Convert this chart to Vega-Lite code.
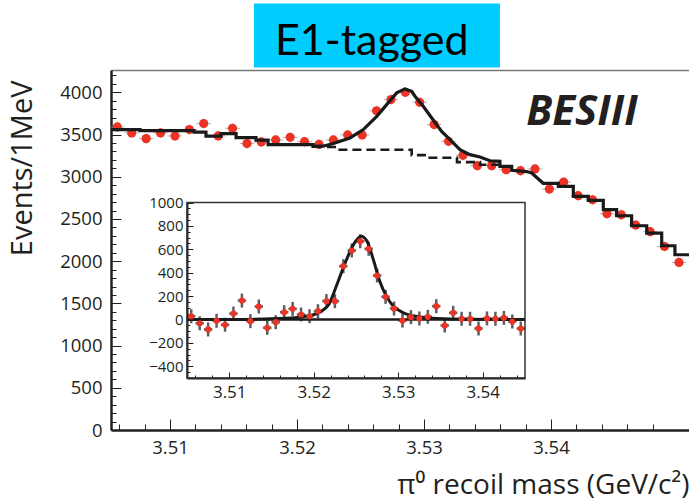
{
  "$schema": "https://vega.github.io/schema/vega-lite/v6.json",
  "width": 578,
  "height": 360,
  "autosize": {"type": "none"},
  "padding": {"left": 111, "top": 70, "right": 0, "bottom": 72},
  "config": {
    "font": "Open Sans",
    "view": {"stroke": null},
    "axis": {"grid": false, "labelColor": "#231f20", "titleColor": "#231f20", "titleFontWeight": "normal", "domainColor": "#231f20", "tickColor": "#231f20", "zindex": 1}
  },
  "datasets": {
    "pts": [
      {"m": 3.50585, "n": 3591}, {"m": 3.50698, "n": 3520}, {"m": 3.50812, "n": 3452}, {"m": 3.50925, "n": 3520},
      {"m": 3.51039, "n": 3484}, {"m": 3.51152, "n": 3559}, {"m": 3.51265, "n": 3630}, {"m": 3.51379, "n": 3484},
      {"m": 3.51492, "n": 3574}, {"m": 3.51606, "n": 3393}, {"m": 3.51719, "n": 3413}, {"m": 3.51832, "n": 3437},
      {"m": 3.51946, "n": 3467}, {"m": 3.52059, "n": 3416}, {"m": 3.52173, "n": 3384}, {"m": 3.52286, "n": 3437},
      {"m": 3.52399, "n": 3496}, {"m": 3.52513, "n": 3496}, {"m": 3.52626, "n": 3781}, {"m": 3.5274, "n": 3915},
      {"m": 3.52853, "n": 4001}, {"m": 3.52966, "n": 3883}, {"m": 3.5308, "n": 3618}, {"m": 3.53193, "n": 3420},
      {"m": 3.53307, "n": 3254}, {"m": 3.5342, "n": 3132}, {"m": 3.53533, "n": 3132}, {"m": 3.53647, "n": 3084},
      {"m": 3.5376, "n": 3072}, {"m": 3.53874, "n": 3093}, {"m": 3.53987, "n": 2855}, {"m": 3.541, "n": 2938},
      {"m": 3.54214, "n": 2776}, {"m": 3.54327, "n": 2728}, {"m": 3.54441, "n": 2562}, {"m": 3.54554, "n": 2550},
      {"m": 3.54667, "n": 2428}, {"m": 3.54781, "n": 2349}, {"m": 3.54894, "n": 2174}, {"m": 3.55008, "n": 1985}
    ],
    "fit": [
      {"m": 3.50535, "n": 3559}, {"m": 3.50764, "n": 3559}, {"m": 3.50764, "n": 3547}, {"m": 3.51189, "n": 3547}, {"m": 3.51189, "n": 3529},
      {"m": 3.51283, "n": 3529}, {"m": 3.51283, "n": 3482}, {"m": 3.51402, "n": 3482}, {"m": 3.51402, "n": 3511}, {"m": 3.5152, "n": 3511},
      {"m": 3.5152, "n": 3464}, {"m": 3.51677, "n": 3464}, {"m": 3.51677, "n": 3434}, {"m": 3.51772, "n": 3434}, {"m": 3.51772, "n": 3381},
      {"m": 3.52126, "n": 3381}, {"m": 3.52126, "n": 3360}, {"m": 3.52205, "n": 3362}, {"m": 3.52286, "n": 3395}, {"m": 3.52417, "n": 3460},
      {"m": 3.52522, "n": 3559}, {"m": 3.52628, "n": 3716}, {"m": 3.52706, "n": 3855}, {"m": 3.52785, "n": 3994}, {"m": 3.5285, "n": 4041},
      {"m": 3.52903, "n": 4013}, {"m": 3.52929, "n": 3954}, {"m": 3.52994, "n": 3835}, {"m": 3.53061, "n": 3697}, {"m": 3.53139, "n": 3538},
      {"m": 3.53205, "n": 3440}, {"m": 3.53283, "n": 3321}, {"m": 3.53362, "n": 3262}, {"m": 3.53441, "n": 3235}, {"m": 3.5352, "n": 3190},
      {"m": 3.53598, "n": 3183}, {"m": 3.53598, "n": 3123}, {"m": 3.53691, "n": 3123}, {"m": 3.53691, "n": 3076}, {"m": 3.53809, "n": 3062},
      {"m": 3.53848, "n": 3045}, {"m": 3.53939, "n": 2923}, {"m": 3.54058, "n": 2923}, {"m": 3.54058, "n": 2886}, {"m": 3.54176, "n": 2886},
      {"m": 3.54176, "n": 2767}, {"m": 3.54294, "n": 2767}, {"m": 3.54294, "n": 2720}, {"m": 3.54412, "n": 2720}, {"m": 3.54412, "n": 2610},
      {"m": 3.54517, "n": 2610}, {"m": 3.54517, "n": 2538}, {"m": 3.54635, "n": 2538}, {"m": 3.54635, "n": 2420}, {"m": 3.54754, "n": 2420},
      {"m": 3.54754, "n": 2333}, {"m": 3.54872, "n": 2333}, {"m": 3.54872, "n": 2183}, {"m": 3.54976, "n": 2183}, {"m": 3.54976, "n": 2076},
      {"m": 3.55087, "n": 2076}
    ],
    "bkg": [
      {"m": 3.52126, "n": 3355}, {"m": 3.52315, "n": 3352}, {"m": 3.52315, "n": 3321}, {"m": 3.52903, "n": 3321}, {"m": 3.52903, "n": 3256},
      {"m": 3.53024, "n": 3256}, {"m": 3.53024, "n": 3226}, {"m": 3.5326, "n": 3226}, {"m": 3.5326, "n": 3173}, {"m": 3.53441, "n": 3173},
      {"m": 3.53441, "n": 3143}, {"m": 3.53598, "n": 3143}
    ],
    "ipts": [
      {"m": 3.5055, "n": 28}, {"m": 3.5065, "n": -32}, {"m": 3.5075, "n": -85}, {"m": 3.5085, "n": -11},
      {"m": 3.5095, "n": -45}, {"m": 3.5105, "n": 51}, {"m": 3.5115, "n": 162}, {"m": 3.5125, "n": -14},
      {"m": 3.5135, "n": 111}, {"m": 3.5145, "n": -71}, {"m": 3.5155, "n": -23}, {"m": 3.5165, "n": 62},
      {"m": 3.5175, "n": 91}, {"m": 3.5185, "n": 43}, {"m": 3.5195, "n": 28}, {"m": 3.5205, "n": 71},
      {"m": 3.5215, "n": 157}, {"m": 3.5225, "n": 157}, {"m": 3.5235, "n": 456}, {"m": 3.5245, "n": 590},
      {"m": 3.5255, "n": 669}, {"m": 3.5265, "n": 604}, {"m": 3.5275, "n": 376}, {"m": 3.5285, "n": 194},
      {"m": 3.5295, "n": 94}, {"m": 3.5305, "n": -9}, {"m": 3.5315, "n": 20}, {"m": 3.5325, "n": 9},
      {"m": 3.5335, "n": 23}, {"m": 3.5345, "n": 114}, {"m": 3.5355, "n": -51}, {"m": 3.5365, "n": 57},
      {"m": 3.5375, "n": 6}, {"m": 3.5385, "n": 6}, {"m": 3.5395, "n": -77}, {"m": 3.5405, "n": 9},
      {"m": 3.5415, "n": 6}, {"m": 3.5425, "n": 14}, {"m": 3.5435, "n": -17}, {"m": 3.5445, "n": -77}
    ],
    "ifit": [
      {"m": 3.505, "n": 0}, {"m": 3.51, "n": 1}, {"m": 3.514, "n": 4}, {"m": 3.5165, "n": 10}, {"m": 3.5185, "n": 22},
      {"m": 3.52, "n": 42}, {"m": 3.521, "n": 75}, {"m": 3.5218, "n": 130}, {"m": 3.5227, "n": 290}, {"m": 3.5237, "n": 480},
      {"m": 3.5247, "n": 640}, {"m": 3.5256, "n": 712}, {"m": 3.5263, "n": 670}, {"m": 3.5271, "n": 500}, {"m": 3.5278, "n": 330},
      {"m": 3.5286, "n": 200}, {"m": 3.5294, "n": 115}, {"m": 3.5306, "n": 57}, {"m": 3.5326, "n": 22}, {"m": 3.5346, "n": 8},
      {"m": 3.538, "n": 2}, {"m": 3.545, "n": 0}
    ]
  },
  "layer": [
    {
      "encoding": {
        "x": {
          "field": "m", "type": "quantitative",
          "scale": {"domain": [3.50535, 3.55087], "nice": false, "zero": false},
          "axis": {
            "orient": "bottom",
            "values": [3.506, 3.508, 3.51, 3.512, 3.514, 3.516, 3.518, 3.52, 3.522, 3.524, 3.526, 3.528, 3.53, 3.532, 3.534, 3.536, 3.538, 3.54, 3.542, 3.544, 3.546, 3.548],
            "labelExpr": "abs(datum.value*100 - round(datum.value*100)) < 0.001 ? format(datum.value, '.2f') : ''",
            "tickSize": {"condition": {"test": "abs(datum.value*100 - round(datum.value*100)) < 0.001", "value": -11}, "value": -6},
            "tickWidth": 1,
            "domainWidth": 2.5,
            "labelFontSize": 18.5,
            "labelPadding": 19,
            "labelOverlap": false,
            "labelFlush": false,
            "title": "π⁰ recoil mass (GeV/c²)",
            "titleFontSize": 28,
            "titleAnchor": "end",
            "titleAlign": "right",
            "titlePadding": 10
          }
        },
        "y": {
          "field": "n", "type": "quantitative",
          "scale": {"domain": [0, 4265], "nice": false},
          "axis": {
            "orient": "left",
            "values": [0, 100, 200, 300, 400, 500, 600, 700, 800, 900, 1000, 1100, 1200, 1300, 1400, 1500, 1600, 1700, 1800, 1900, 2000, 2100, 2200, 2300, 2400, 2500, 2600, 2700, 2800, 2900, 3000, 3100, 3200, 3300, 3400, 3500, 3600, 3700, 3800, 3900, 4000, 4100, 4200],
            "labelExpr": "datum.value % 500 == 0 ? format(datum.value, 'd') : ''",
            "tickSize": {"condition": {"test": "datum.value % 500 == 0", "value": -10}, "value": -5},
            "tickWidth": 1,
            "domainWidth": 2.5,
            "labelFontSize": 18.5,
            "labelPadding": 19,
            "labelOverlap": false,
            "labelFlush": false,
            "title": "Events/1MeV",
            "titleFontSize": 29,
            "titleAnchor": "end",
            "titleAlign": "right",
            "titleY": 10,
            "titlePadding": 22
          }
        }
      },
      "layer": [
        {"data": {"name": "pts"}, "mark": {"type": "tick", "orient": "vertical", "size": 10, "thickness": 1, "color": "#8c8c8c"}},
        {"data": {"name": "pts"}, "mark": {"type": "tick", "orient": "horizontal", "size": 14.4, "thickness": 1, "color": "#8c8c8c"}},
        {"data": {"name": "pts"}, "mark": {"type": "circle", "size": 85, "color": "#ec3324", "opacity": 1}},
        {"data": {"name": "fit"}, "mark": {"type": "line", "color": "#1a1a1a", "strokeWidth": 3.2}, "encoding": {"order": {"value": null}}},
        {"data": {"name": "bkg"}, "mark": {"type": "line", "color": "#1a1a1a", "strokeWidth": 2.6, "strokeDash": [9, 5]}, "encoding": {"order": {"value": null}}}
      ]
    },
    {
      "data": {"values": [{}]},
      "layer": [
        {
          "mark": {"type": "rect", "color": "#00ccff"},
          "encoding": {
            "x": {"datum": 3.51661, "type": "quantitative", "scale": {"domain": [3.50535, 3.55087], "nice": false, "zero": false},
                  "axis": {"orient": "top", "ticks": false, "labels": false, "title": null, "domainColor": "#777777", "domainWidth": 1.5, "zindex": 0}},
            "x2": {"datum": 3.53598},
            "y": {"datum": 5053, "type": "quantitative", "scale": {"domain": [0, 4265], "nice": false}, "axis": null},
            "y2": {"datum": 4294}
          }
        },
        {
          "mark": {"type": "text", "text": "E1-tagged", "font": "Lato", "fontSize": 43, "color": "#000000", "align": "center", "baseline": "alphabetic"},
          "encoding": {
            "x": {"datum": 3.52588, "type": "quantitative", "scale": {"domain": [3.50535, 3.55087], "nice": false, "zero": false},
                  "axis": {"orient": "top", "ticks": false, "labels": false, "title": null, "domainColor": "#777777", "domainWidth": 1.5, "zindex": 0}},
            "y": {"datum": 4448, "type": "quantitative", "scale": {"domain": [0, 4265], "nice": false}, "axis": null}
          }
        },
        {
          "mark": {"type": "text", "text": "BESIII", "font": "Open Sans", "fontSize": 42, "fontWeight": "bold", "fontStyle": "italic", "color": "#231f20", "align": "center", "baseline": "alphabetic"},
          "encoding": {
            "x": {"datum": 3.54244, "type": "quantitative", "scale": {"domain": [3.50535, 3.55087], "nice": false, "zero": false},
                  "axis": {"orient": "top", "ticks": false, "labels": false, "title": null, "domainColor": "#777777", "domainWidth": 1.5, "zindex": 0}},
            "y": {"datum": 3618, "type": "quantitative", "scale": {"domain": [0, 4265], "nice": false}, "axis": null}
          }
        }
      ]
    },
    {
      "data": {"values": [{}]},
      "layer": [
        {
          "mark": {"type": "rect", "fill": null, "fillOpacity": 0, "stroke": "#333333", "strokeWidth": 1.5},
          "encoding": {
            "x": {"datum": 3.505, "type": "quantitative", "scale": {"domain": [3.505, 3.545], "range": [76, 414], "nice": false, "zero": false}, "axis": null},
            "x2": {"datum": 3.545},
            "y": {"datum": -500, "type": "quantitative", "scale": {"domain": [-500, 1000], "range": [308, 132.5], "nice": false, "zero": false}, "axis": null},
            "y2": {"datum": 1000}
          }
        },
        {
          "mark": {"type": "rule", "color": "#1a1a1a", "strokeWidth": 2.5},
          "encoding": {
            "x": {"datum": 3.505, "type": "quantitative", "scale": {"domain": [3.505, 3.545], "range": [76, 414], "nice": false, "zero": false}, "axis": null},
            "x2": {"datum": 3.545},
            "y": {"datum": 0, "type": "quantitative", "scale": {"domain": [-500, 1000], "range": [308, 132.5], "nice": false, "zero": false}, "axis": null}
          }
        }
      ]
    },
    {
      "encoding": {
        "x": {
          "field": "m", "type": "quantitative",
          "scale": {"domain": [3.505, 3.545], "range": [76, 414], "nice": false, "zero": false},
          "axis": {
            "orient": "bottom",
            "offset": -52,
            "values": [3.506, 3.508, 3.51, 3.512, 3.514, 3.516, 3.518, 3.52, 3.522, 3.524, 3.526, 3.528, 3.53, 3.532, 3.534, 3.536, 3.538, 3.54, 3.542, 3.544],
            "labelExpr": "abs(datum.value*100 - round(datum.value*100)) < 0.001 ? format(datum.value, '.2f') : ''",
            "tickSize": {"condition": {"test": "abs(datum.value*100 - round(datum.value*100)) < 0.001", "value": -6}, "value": -3},
            "tickWidth": 1,
            "domainWidth": 2,
            "labelFontSize": 17,
            "labelPadding": 12,
            "labelOverlap": false,
            "labelFlush": false,
            "title": null
          }
        },
        "y": {
          "field": "n", "type": "quantitative",
          "scale": {"domain": [-500, 1000], "range": [308, 132.5], "nice": false, "zero": false},
          "axis": {
            "orient": "left",
            "offset": -76,
            "values": [-500, -450, -400, -350, -300, -250, -200, -150, -100, -50, 0, 50, 100, 150, 200, 250, 300, 350, 400, 450, 500, 550, 600, 650, 700, 750, 800, 850, 900, 950, 1000],
            "labelExpr": "datum.value % 200 == 0 ? format(datum.value, 'd') : ''",
            "tickSize": {"condition": {"test": "datum.value % 200 == 0", "value": -6}, "value": -3},
            "tickWidth": 1,
            "domainWidth": 2,
            "labelFontSize": 15,
            "labelPadding": 10,
            "labelOverlap": false,
            "labelFlush": false,
            "title": null
          }
        }
      },
      "layer": [
        {"data": {"name": "ifit"}, "mark": {"type": "line", "color": "#1a1a1a", "strokeWidth": 3, "interpolate": "monotone"}},
        {"data": {"name": "ipts"}, "mark": {"type": "tick", "orient": "horizontal", "size": 8.4, "thickness": 2.5, "color": "#1a1a1a"}},
        {"data": {"name": "ipts"}, "mark": {"type": "tick", "orient": "vertical", "size": 14, "thickness": 2.5, "color": "#1a1a1a"}},
        {"data": {"name": "ipts"}, "mark": {"type": "circle", "size": 38, "color": "#ec3324", "opacity": 1}}
      ]
    }
  ],
  "resolve": {"scale": {"x": "independent", "y": "independent"}, "axis": {"x": "independent", "y": "independent"}}
}
